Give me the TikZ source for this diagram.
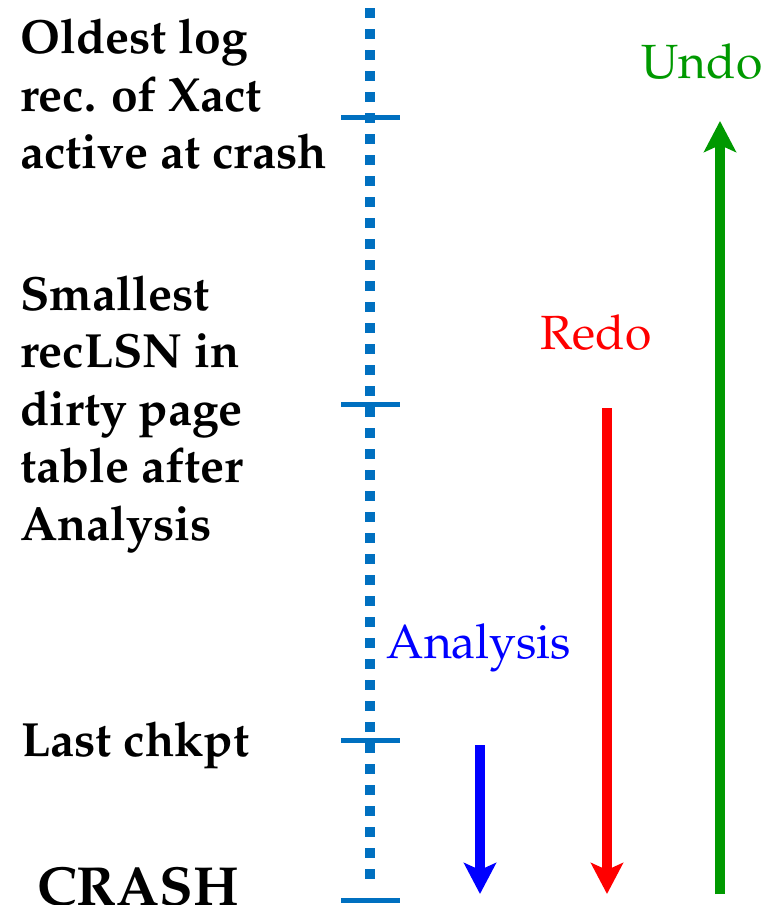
\documentclass[tikz,border=0pt]{standalone}
\usepackage[T1]{fontenc}
\usepackage{mathpazo}
\usetikzlibrary{arrows.meta,positioning}
\definecolor{logblue}{RGB}{0,112,192}
\definecolor{undogreen}{RGB}{0,153,0}
\tikzset{
  lsnlabel/.style={anchor=west, inner sep=0pt, align=left, font=\fontsize{48}{57.5}\selectfont\bfseries},
  phaselabel/.style={inner sep=0pt, font=\fontsize{48}{57.5}\selectfont},
  tick/.style={draw=logblue, line width=5pt},
  phase/.style={line width=10pt, -{Stealth[length=31pt,width=32pt,inset=7pt]}}
}
\begin{document}
\begin{tikzpicture}[x=1pt, y=-1pt]
    \useasboundingbox (0,0) rectangle (768,905);
    % Log axis
    \coordinate (top) at (370,8);
    \coordinate (bottom) at (370,879);
    \draw[logblue, line width=10pt, dash pattern=on 10pt off 11pt] (top) -- (bottom);

    % Ticks
    \coordinate (oldest) at (370,117);
    \coordinate (reclsn) at (370,404);
    \coordinate (chkpt) at (370,740);
    \coordinate (crash) at (370,900);
    \foreach \t in {oldest, reclsn, chkpt, crash}
      \draw[tick] ([xshift=-29pt]\t) -- ([xshift=30pt]\t);

    % Left labels
    \node[lsnlabel] (oldestlbl) at (20,94) {Oldest log\\rec. of Xact\\active at crash};
    \node[lsnlabel] (reclsnlbl) at (20,414) {Smallest\\recLSN in\\dirty page\\table after\\Analysis};
    \node[lsnlabel] (chkptlbl) at (21,745) {Last chkpt};
    \node[lsnlabel, font=\fontsize{55}{66}\selectfont\bfseries] (crashlbl) at (37,887) {CRASH};

    % Phase arrows
    \coordinate (anastart) at (480,745);
    \coordinate (anaend) at (480,894);
    \coordinate (redostart) at (607,408);
    \coordinate (redoend) at (607,894);
    \coordinate (undostart) at (720,894);
    \coordinate (undoend) at (720,121);
    \draw[phase, blue] (anastart) -- (anaend);
    \draw[phase, red] (redostart) -- (redoend);
    \draw[phase, undogreen] (undostart) -- (undoend);

    % Phase labels
    \node[phaselabel, blue] (analbl) at (479,648) {Analysis};
    \node[phaselabel, red] (redolbl) at (596,333) {Redo};
    \node[phaselabel, undogreen] (undolbl) at (702,62) {Undo};
  \end{tikzpicture}
\end{document}
